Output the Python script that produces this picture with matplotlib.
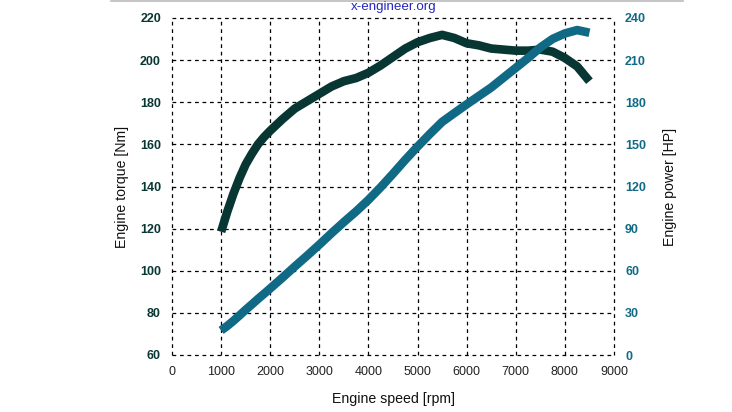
import matplotlib
matplotlib.use("Agg")
import matplotlib.pyplot as plt
from matplotlib.lines import Line2D

plt.rcParams['font.family'] = ['Liberation Sans', 'DejaVu Sans']

rpm = [1000, 1125, 1250, 1375, 1500, 1625, 1750, 1875, 2000, 2250, 2500, 2750,
       3000, 3250, 3500, 3750, 4000, 4250, 4500, 4750, 5000, 5250, 5500, 5750,
       6000, 6250, 6500, 6750, 7000, 7250, 7500, 7750, 8000, 8250, 8500]
torque_nm = [118.5, 128, 136.5, 144, 150.5, 155.5, 160, 163.5, 166.5, 172, 177, 180.5,
             184, 187.5, 190, 191.5, 194, 197.5, 201.5, 205.5, 208.5, 210.5, 212, 210.5,
             208, 207, 205.5, 205, 204.5, 204.5, 205, 204, 201, 197, 190]
power_hp = [17.5, 20.7, 24.3, 28.2, 32.2, 36, 39.9, 43.6, 47.4, 55.1, 63, 70.7,
            78.6, 86.8, 94.7, 102.3, 110.5, 119.5, 129.1, 139, 148.4, 157.4, 166, 172.3,
            178.5, 184.5, 190.5, 197.5, 204.5, 211.5, 219, 225.1, 229, 231.4, 229.5]

x_ticks = list(range(0, 9001, 1000))
torque_ticks = list(range(60, 221, 20))
power_ticks = list(range(0, 241, 30))

c_torque = '#083733'
c_power = '#106a86'

fig = plt.figure(figsize=(7.32, 4.12), dpi=100)
ax = fig.add_axes([172/732, 1-355/412, (614-172)/732, (355-18)/412])
ax2 = ax.twinx()

ax.plot(rpm, torque_nm, color=c_torque, lw=6.2, solid_capstyle='butt',
        solid_joinstyle='round', zorder=3)
ax2.plot(rpm, power_hp, color=c_power, lw=6.2, solid_capstyle='butt',
         solid_joinstyle='round', zorder=3)

ax.set_xlim(0, 9000)
ax.set_ylim(60, 220)
ax2.set_ylim(0, 240)
ax.set_xticks(x_ticks)
ax.set_yticks(torque_ticks)
ax2.set_yticks(power_ticks)

for a in (ax, ax2):
    for s in a.spines.values():
        s.set_visible(False)

ax.grid(True, color='black', linestyle=(0, (3, 3)), linewidth=0.9)
ax.set_axisbelow(True)
for gl in ax.get_xgridlines() + ax.get_ygridlines():
    gl.set_clip_on(False)

ax.tick_params(axis='x', length=0, pad=8, labelsize=9, labelcolor='#222222')
ax.tick_params(axis='y', length=0, pad=8, labelsize=9, labelcolor=c_torque)
ax2.tick_params(axis='y', length=0, pad=8, labelsize=9, labelcolor=c_power)
for lab in ax.get_yticklabels():
    lab.set_fontweight('bold')
for lab in ax2.get_yticklabels():
    lab.set_fontweight('bold')

ax.set_xlabel('Engine speed [rpm]', fontsize=10.2, color='#111111', labelpad=10)
ax.set_ylabel('Engine torque [Nm]', fontsize=10.2, color='#111111', labelpad=8)
ax2.set_ylabel('Engine power [HP]', fontsize=10.2, color='#111111', labelpad=12)

fig.text(394/732, 1-7/412, 'x-engineer.org', ha='center', va='center',
         fontsize=9.6, color='#2626c4')
fig.add_artist(Line2D([111/732, 683/732], [1-1/412, 1-1/412],
                      color='#bbbbbb', lw=1.2, transform=fig.transFigure))

fig.savefig('out.png', dpi=100)
